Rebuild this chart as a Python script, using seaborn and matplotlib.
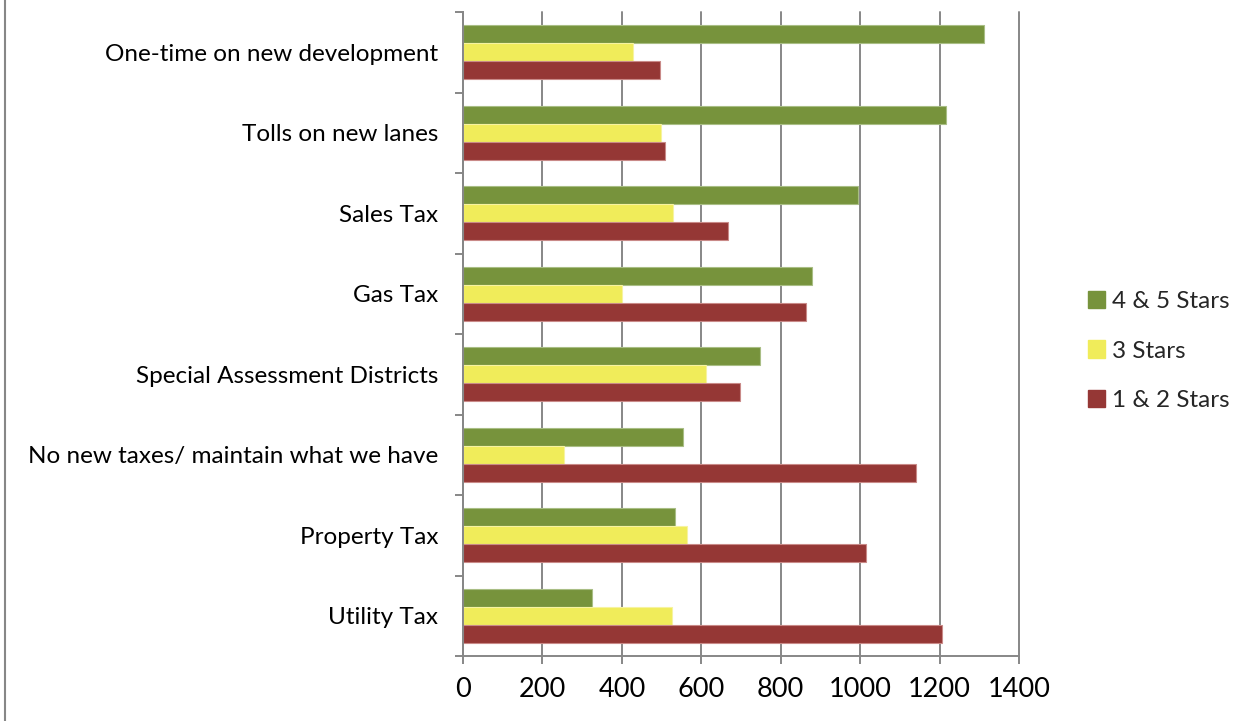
import matplotlib
matplotlib.use("Agg")
import matplotlib.pyplot as plt
from matplotlib.lines import Line2D
from matplotlib.patches import Patch
import seaborn as sns
import pandas as pd

categories = [
    "One-time on new development",
    "Tolls on new lanes",
    "Sales Tax",
    "Gas Tax",
    "Special Assessment Districts",
    "No new taxes/ maintain what we have",
    "Property Tax",
    "Utility Tax",
]
series_names = ["4 & 5 Stars", "3 Stars", "1 & 2 Stars"]
stars_4_5 = [1311, 1215, 995, 880, 749, 554, 535, 326]
stars_3 = [427, 498, 530, 401, 613, 255, 563, 525]
stars_1_2 = [496, 508, 667, 864, 697, 1141, 1014, 1205]
x_ticks = [0, 200, 400, 600, 800, 1000, 1200, 1400]

colors = {"4 & 5 Stars": "#77933C", "3 Stars": "#F0EC5A", "1 & 2 Stars": "#953735"}
edges = {"4 & 5 Stars": "#A9BE85", "3 Stars": "#F6F3A0", "1 & 2 Stars": "#C98A88"}

df = pd.DataFrame({
    "category": categories * 3,
    "rating": [series_names[0]] * 8 + [series_names[1]] * 8 + [series_names[2]] * 8,
    "count": stars_4_5 + stars_3 + stars_1_2,
})

sns.set_theme(style="white")
plt.rcParams["font.family"] = ["Lato", "DejaVu Sans"]
FS = 17.5

fig = plt.figure(figsize=(12.52, 7.21), dpi=100)
ax = fig.add_axes([463 / 1252, 1 - 656 / 721, (1019 - 463) / 1252, (656 - 12) / 721])

sns.barplot(
    data=df, y="category", x="count", hue="rating",
    order=categories, hue_order=series_names, palette=colors,
    orient="h", width=0.67, dodge=True, saturation=1, ax=ax, legend=False,
)
for cont, name in zip(ax.containers, series_names):
    for bar in cont:
        bar.set_edgecolor(edges[name])
        bar.set_linewidth(0.8)

ax.set_xlim(0, 1400)
ax.set_ylim(len(categories) - 0.5, -0.5)
ax.set_xticks(x_ticks)
ax.set_xticklabels([str(v) for v in x_ticks])
ax.set_xlabel("")
ax.set_ylabel("")

grid_c = "#878787"
ax.xaxis.grid(True, color=grid_c, linewidth=1.4)
for gl in ax.get_xgridlines():
    gl.set_clip_on(False)
ax.set_axisbelow(True)
for side in ["top", "right"]:
    ax.spines[side].set_visible(False)
for side in ["left", "bottom"]:
    ax.spines[side].set_color(grid_c)
    ax.spines[side].set_linewidth(1.4)

# category labels sit between the boundary tick marks
ax.set_yticks(range(len(categories)))
ax.set_yticklabels(categories)
ax.set_yticks([i - 0.5 for i in range(len(categories) + 1)], minor=True)
ax.tick_params(axis="y", which="major", length=0, pad=18, labelsize=FS, labelcolor="#000000")
ax.tick_params(axis="y", which="minor", length=6, width=1.4, color=grid_c, direction="out", left=True)
ax.tick_params(axis="x", which="major", length=6, width=1.4, color=grid_c, direction="out",
               bottom=True, pad=9, labelsize=19.5, labelcolor="#000000")

handles = [Patch(facecolor=colors[n], edgecolor=colors[n]) for n in series_names]
fig.legend(
    handles, series_names, loc="center left", bbox_to_anchor=(1078 / 1252, 1 - 351 / 721),
    frameon=False, fontsize=FS, handlelength=0.7, handleheight=0.7,
    handletextpad=0.3, labelspacing=1.17, borderaxespad=0,
)

fig.add_artist(Line2D([5 / 1252, 5 / 1252], [0, 1], color=grid_c, linewidth=1.5,
                      transform=fig.transFigure))

fig.savefig("out.png", dpi=100, facecolor="white")
